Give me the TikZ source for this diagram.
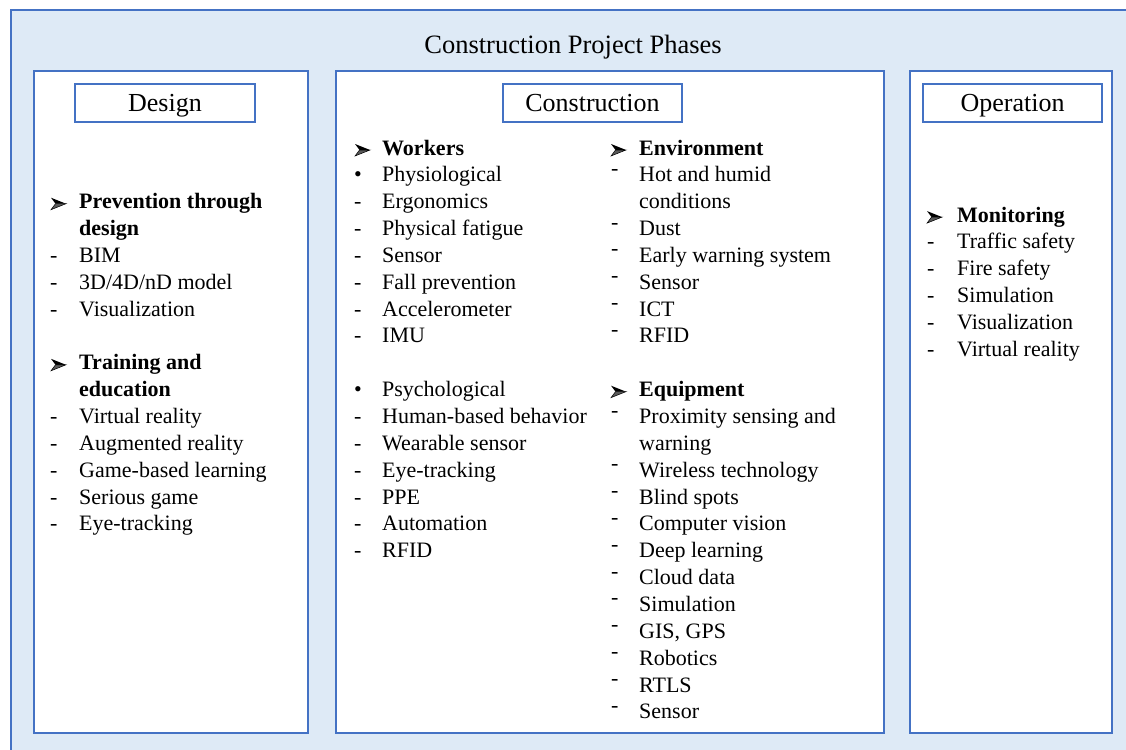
\documentclass[tikz,border=0pt]{standalone}
\usepackage{fontspec}
\setmainfont{Liberation Serif}
\definecolor{bluebd}{HTML}{4472C4}
\definecolor{bluebg}{HTML}{DEEAF6}
\newcommand\rdash{\raisebox{6.5pt}{-}}
\tikzset{
  panel/.style={draw=bluebd, line width=1.8pt, fill=white, inner sep=0pt, anchor=north west},
  hdr/.style={draw=bluebd, line width=1.8pt, fill=white, inner sep=0pt, minimum height=38pt,
    text height=21pt, text depth=3pt, font=\fontsize{26pt}{30pt}\selectfont},
  lst/.style={inner sep=0pt, anchor=base west, align=left, font=\fontsize{22pt}{26.85pt}\selectfont},
  arrowhd/.pic={
    \fill[black] (0,-11) -- (15,-5) -- (4.5,-5) -- cycle;
    \filldraw[fill=black!65, draw=black, line width=0.5pt, line join=miter] (0,1) -- (15,-5) -- (4.5,-5) -- cycle;
  },
}
\begin{document}
\begin{tikzpicture}[x=1pt,y=-1pt]
\path[use as bounding box] (0,0) rectangle (1126,749);
\clip (0,0) rectangle (1126,749);
\node[draw=bluebd, fill=bluebg, line width=2pt, inner sep=0pt, anchor=north west,
  minimum width=1140pt, minimum height=760pt] (outer) at (10,9) {};
\node[anchor=base, font=\fontsize{26.5pt}{30pt}\selectfont] (title) at (573,54) {Construction Project Phases};

\node[panel, minimum width=274pt, minimum height=662pt] (design) at (33,70) {};
\node[panel, minimum width=548pt, minimum height=662pt] (constr) at (335,70) {};
\node[panel, minimum width=202pt, minimum height=662pt] (oper) at (909,70) {};

\node[hdr, minimum width=180pt] (dh) at (165,103) {Design};
\node[hdr, minimum width=179pt] (ch) at (592.5,103) {Construction};
\node[hdr, minimum width=179pt] (oh) at (1012.5,103) {Operation};

\node[lst] (dl) at (50,208.7) {\begin{tabular}[t]{@{}p{29pt}@{}l@{}}
 & \textbf{Prevention through}\\
 & \textbf{design}\\
- & BIM\\
- & 3D/4D/nD model\\
- & Visualization\\
 & \\
 & \textbf{Training and}\\
 & \textbf{education}\\
- & Virtual reality\\
- & Augmented reality\\
- & Game-based learning\\
- & Serious game\\
- & Eye-tracking
\end{tabular}};
\pic (a1) at (51,208.7) {arrowhd};
\pic (a2) at (51,369.8) {arrowhd};

\node[lst] (cl1) at (354,155) {\begin{tabular}[t]{@{}p{28pt}@{}l@{}}
 & \textbf{Workers}\\
\textbullet & Physiological\\
- & Ergonomics\\
- & Physical fatigue\\
- & Sensor\\
- & Fall prevention\\
- & Accelerometer\\
- & IMU\\
 & \\
\textbullet & Psychological\\
- & Human-based behavior\\
- & Wearable sensor\\
- & Eye-tracking\\
- & PPE\\
- & Automation\\
- & RFID
\end{tabular}};
\pic (a3) at (355,155) {arrowhd};

\node[lst] (cl2) at (611,155) {\begin{tabular}[t]{@{}p{28pt}@{}l@{}}
 & \textbf{Environment}\\
\rdash & Hot and humid\\
 & conditions\\
\rdash & Dust\\
\rdash & Early warning system\\
\rdash & Sensor\\
\rdash & ICT\\
\rdash & RFID\\
 & \\
 & \textbf{Equipment}\\
\rdash & Proximity sensing and\\
 & warning\\
\rdash & Wireless technology\\
\rdash & Blind spots\\
\rdash & Computer vision\\
\rdash & Deep learning\\
\rdash & Cloud data\\
\rdash & Simulation\\
\rdash & GIS, GPS\\
\rdash & Robotics\\
\rdash & RTLS\\
\rdash & Sensor
\end{tabular}};
\pic (a4) at (611,155) {arrowhd};
\pic (a5) at (611,396.65) {arrowhd};

\node[lst] (ol) at (927,222.1) {\begin{tabular}[t]{@{}p{30pt}@{}l@{}}
 & \textbf{Monitoring}\\
- & Traffic safety\\
- & Fire safety\\
- & Simulation\\
- & Visualization\\
- & Virtual reality
\end{tabular}};
\pic (a6) at (927,222.1) {arrowhd};
\end{tikzpicture}
\end{document}
